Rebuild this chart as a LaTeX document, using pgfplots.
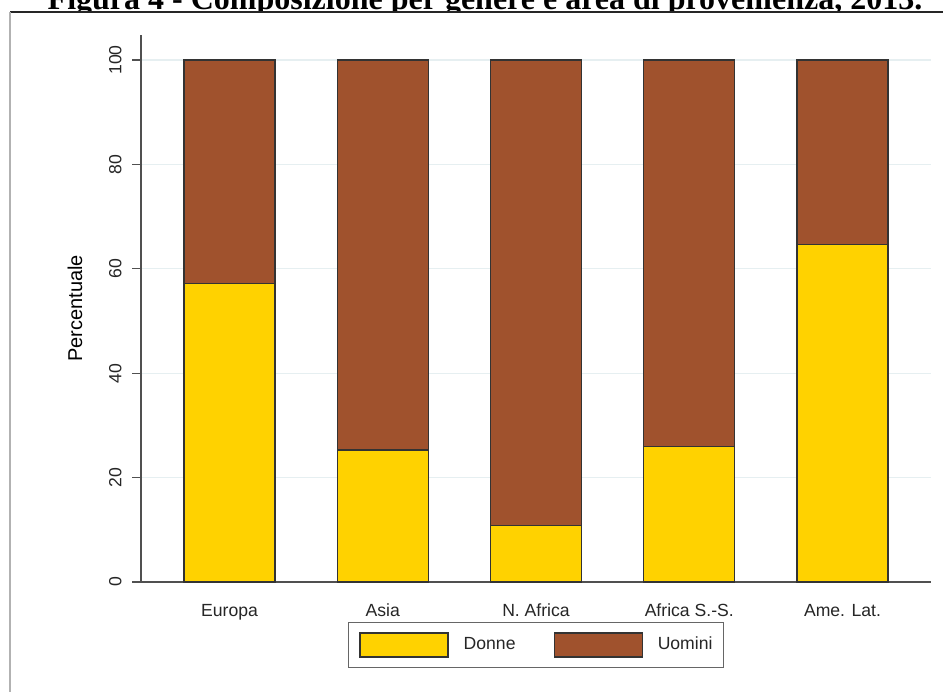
\documentclass[border=0pt]{standalone}
\usepackage{fontspec}
\setmainfont{Liberation Sans}
\newfontfamily\titlefont{Liberation Serif}
\usepackage{pgfplots}
\pgfplotsset{compat=1.18}
\definecolor{giallo}{RGB}{255,210,0}
\definecolor{marrone}{RGB}{160,82,45}
\definecolor{gridc}{RGB}{230,239,241}
\definecolor{axc}{RGB}{80,80,80}
\begin{document}
\begin{tikzpicture}
\useasboundingbox (0,0) rectangle (471.5pt,-346pt);
\node[anchor=base, font=\titlefont\bfseries\fontsize{16}{19}\selectfont] at (242.5pt,-4.5pt) {Figura 4 - Composizione per genere e area di provenienza, 2013.};
\fill[white] (0,-6pt) rectangle (471.5pt,-346pt);
\draw[line width=1pt, black!85] (5pt,-6pt) -- (471.5pt,-6pt);
\draw[gray!60, line width=0.6pt] (5pt,-6pt) -- (5pt,-346pt);
\begin{axis}[
  at={(70.5pt,-291pt)}, anchor=south west,
  scale only axis, width=395pt, height=273.5pt,
  ybar stacked, bar width=45.5pt,
  xmin=-0.5775, xmax=4.5775, ymin=0, ymax=104.8,
  axis x line=bottom, axis y line=left,
  axis line style={-, axc, line width=0.6pt},
  xtick={0,1,2,3,4},
  xticklabels={Europa, Asia, N. Africa, Africa S.-S., Ame. Lat.},
  xtick style={draw=none},
  ytick={0,20,40,60,80,100},
  ytick style={axc, line width=0.6pt},
  tick align=outside, major tick length=4.5pt,
  ymajorgrids, grid style={gridc, line width=0.6pt},
  /pgf/number format/assume math mode=true,
  tick label style={font=\fontsize{8.8}{10}\selectfont, text=black!85},
  yticklabel style={rotate=90, anchor=south, inner sep=0pt},
  yticklabel shift=5pt,
  xticklabel style={anchor=north, inner sep=0pt, text height=6.6pt, text depth=0pt, yshift=-6pt},
  ylabel={Percentuale},
  ylabel style={font=\fontsize{8.8}{10}\selectfont, text=black!85},
  every axis y label/.style={at={(axis description cs:-0.0835,0.5)}, rotate=90, anchor=center},
  legend columns=2,
  legend style={at={(0.5,-0.1152)}, anchor=center, draw=black!60, line width=0.7pt,
    inner xsep=5.5pt, inner ysep=5pt,
    nodes={inner sep=0pt, font=\fontsize{8.8}{10}\selectfont, text=black!85},
    /tikz/every odd column/.append style={column sep=7.5pt},
    /tikz/every even column/.append style={column sep=19pt}},
  legend image code/.code={\draw[#1, line width=0.6pt] (0pt,-6pt) rectangle (44pt,6pt);},
]
\addplot[fill=giallo, draw=black!80, line width=0.6pt] coordinates {(0,57.2) (1,25.3) (2,10.9) (3,26.0) (4,64.7)};
\addplot[fill=marrone, draw=black!80, line width=0.6pt] coordinates {(0,42.8) (1,74.7) (2,89.1) (3,74.0) (4,35.3)};
\legend{Donne, Uomini}
\end{axis}
\end{tikzpicture}
\end{document}
